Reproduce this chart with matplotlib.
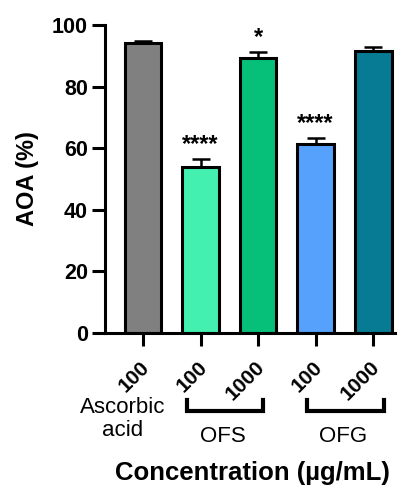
import numpy as np
import matplotlib.pyplot as plt
from matplotlib.transforms import ScaledTranslation

# data
concentrations = ["100", "100", "1000", "100", "1000"]
aoa_mean = [94.3, 54.0, 89.4, 61.2, 91.6]
aoa_err = [0.6, 2.5, 1.8, 2.1, 1.4]
stars = ["", "****", "*", "****", ""]
colors = ["#808080", "#43f0b0", "#06c07a", "#55a1fb", "#077b93"]
groups = [("OFS", 0.77, 2.09, 1.39), ("OFG", 2.85, 4.19, 3.48)]

plt.rcParams["font.family"] = ["Arial", "Liberation Sans", "DejaVu Sans"]

fig = plt.figure(figsize=(4.11, 4.86), dpi=100)
ax = fig.add_axes([0.2555, 0.3148, 0.7055, 0.6338])

x = np.arange(len(aoa_mean))
ax.bar(x, aoa_mean, width=0.64, color=colors, edgecolor="black", linewidth=2.2, zorder=2)
for xi, m, e in zip(x, aoa_mean, aoa_err):
    ax.errorbar(xi, m, yerr=[[0], [e]], fmt="none", ecolor="black",
                elinewidth=1.8, capsize=6.5, capthick=1.8, zorder=1)
for xi, m, e, s in zip(x, aoa_mean, aoa_err, stars):
    if s:
        ax.text(xi, m + e + 2.5, s, ha="center", va="baseline", fontsize=17, fontweight="bold")

ax.set_xlim(-0.66, 4.38)
ax.set_ylim(0, 100)
ax.set_yticks([0, 20, 40, 60, 80, 100])
ax.tick_params(axis="y", labelsize=15.5, width=2.2, length=9.4, pad=3)
ax.tick_params(axis="x", width=2.2, length=9, pad=8.5)
for lab in ax.get_yticklabels():
    lab.set_fontweight("bold")
ax.set_xticks(x)
ax.set_xticklabels(concentrations, rotation=45, ha="right", va="top", rotation_mode="anchor",
                   fontsize=15, fontweight="bold")
shift = ScaledTranslation(-3 / 100, 0, fig.dpi_scale_trans)
for lab in ax.get_xticklabels():
    lab.set_transform(lab.get_transform() + shift)
for sp in ["top", "right"]:
    ax.spines[sp].set_visible(False)
for sp in ["left", "bottom"]:
    ax.spines[sp].set_linewidth(2.2)

ax.set_ylabel("AOA (%)", fontsize=17, fontweight="bold", labelpad=9)

# group annotations below the axis
tr = ax.get_xaxis_transform()
ax.text(-0.36, -0.26, "Ascorbic", transform=tr, ha="center", va="baseline", fontsize=16)
ax.text(-0.36, -0.334, "acid", transform=tr, ha="center", va="baseline", fontsize=16)
for name, xa, xb, xc in groups:
    ax.plot([xa, xa, xb, xb], [-0.2175, -0.254, -0.254, -0.2175], transform=tr,
            color="black", lw=3, clip_on=False, solid_joinstyle="miter")
    ax.text(xc, -0.354, name, transform=tr, ha="center", va="baseline", fontsize=16)

fig.text(0.613, 0.0123, "Concentration (µg/mL)", ha="center", va="baseline",
         fontsize=18.5, fontweight="bold")

fig.savefig("out.png", dpi=100)
